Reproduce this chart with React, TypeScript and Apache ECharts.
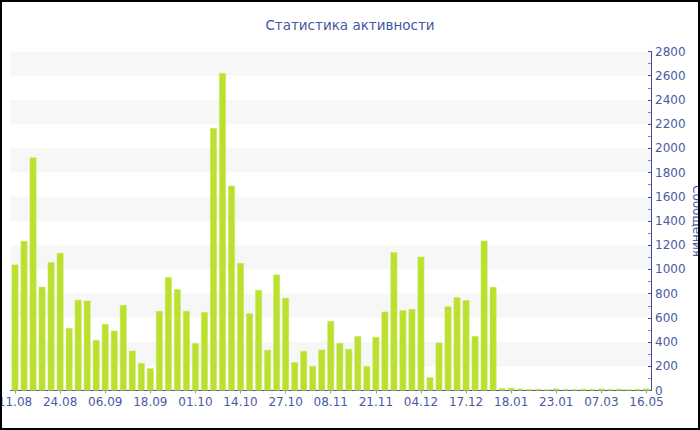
import React, { useEffect, useRef } from "react";
import * as echarts from "echarts";

const titleText = "Статистика активности";
const yAxisName = "Сообщения";

const dates = [
  "11.08", "13.08", "16.08", "18.08", "21.08",
  "24.08", "26.08", "29.08", "31.08", "03.09",
  "06.09", "08.09", "11.09", "13.09", "16.09",
  "18.09", "21.09", "23.09", "26.09", "28.09",
  "01.10", "04.10", "06.10", "09.10", "11.10",
  "14.10", "17.10", "19.10", "22.10", "24.10",
  "27.10", "29.10", "01.11", "03.11", "05.11",
  "08.11", "11.11", "13.11", "16.11", "18.11",
  "21.11", "24.11", "26.11", "29.11", "01.12",
  "04.12", "07.12", "09.12", "12.12", "14.12",
  "17.12", "20.12", "22.12", "25.12", "29.12",
  "18.01", "19.01", "20.01", "21.01", "22.01",
  "23.01", "01.02", "09.02", "17.02", "25.02",
  "07.03", "21.03", "04.04", "18.04", "02.05",
  "16.05",
];

const messages = [
  1040, 1235, 1925, 857, 1059,
  1136, 516, 748, 742, 417,
  549, 494, 706, 329, 227,
  183, 657, 937, 836, 657,
  390, 648, 2168, 2622, 1692,
  1053, 637, 830, 335, 957,
  764, 233, 326, 202, 337,
  574, 392, 343, 448, 202,
  442, 651, 1141, 662, 673,
  1105, 109, 395, 695, 770,
  745, 450, 1237, 855, 18,
  22, 15, 12, 14, 10,
  16, 12, 11, 14, 13,
  15, 12, 14, 11, 13,
  16,
];

const yMin = 0;
const yMax = 2800;
const yStep = 200;

export default function App() {
  const ref = useRef<HTMLDivElement>(null);

  useEffect(() => {
    if (!ref.current) return;
    const chart = echarts.init(ref.current, undefined, { renderer: "svg" });
    const textColor = "#4a5aa4";
    const axisColor = "#3b4c9c";
    const font = "DejaVu Sans";
    chart.setOption({
      animation: false,
      backgroundColor: "#ffffff",
      title: {
        text: titleText,
        left: "center",
        top: 13,
        textStyle: {
          color: "#4556a3",
          fontSize: 13.5,
          fontWeight: "normal",
          fontFamily: font,
        },
      },
      grid: {
        left: 10.5,
        right: 49,
        top: 51.5,
        bottom: 39.5,
        containLabel: false,
        outerBoundsMode: "none",
      },
      xAxis: {
        type: "category",
        data: dates,
        boundaryGap: true,
        axisLine: { lineStyle: { color: axisColor, width: 1 } },
        axisTick: {
          show: true,
          interval: 4,
          alignWithLabel: true,
          length: 3,
          lineStyle: { color: "#9a9a9a" },
        },
        axisLabel: {
          interval: 4,
          color: textColor,
          fontSize: 12,
          fontFamily: font,
          margin: 5,
          hideOverlap: false,
        },
        splitLine: { show: false },
      },
      yAxis: {
        type: "value",
        position: "right",
        min: yMin,
        max: yMax,
        interval: yStep,
        name: yAxisName,
        nameLocation: "middle",
        nameRotate: -90,
        nameGap: 40,
        nameMoveOverlap: false,
        nameTextStyle: {
          color: textColor,
          fontSize: 12,
          fontFamily: font,
        },
        axisLine: { show: true, lineStyle: { color: axisColor, width: 1 } },
        axisTick: {
          show: true,
          inside: true,
          length: 3,
          lineStyle: { color: axisColor },
        },
        minorTick: {
          show: true,
          splitNumber: 2,
          length: 3,
          lineStyle: { color: "#8a8a8a" },
        },
        axisLabel: {
          color: textColor,
          fontSize: 12,
          fontFamily: font,
          margin: 4,
          formatter: (v: number) => String(v),
        },
        splitLine: { show: false },
        splitArea: {
          show: true,
          areaStyle: { color: ["rgba(255,255,255,0)", "#f7f7f7"] },
        },
      },
      series: [
        {
          type: "bar",
          data: messages,
          barCategoryGap: "25%",
          itemStyle: {
            color: "#bbe02e",
            borderColor: "#c8e868",
            borderWidth: 0.5,
          },
        },
      ],
      graphic: [
        {
          type: "rect",
          z: 100,
          silent: true,
          shape: { x: 1, y: 1, width: 698, height: 428 },
          style: { fill: "none", stroke: "#000000", lineWidth: 2 },
        },
      ],
    });
    return () => chart.dispose();
  }, []);

  return (
    <div
      ref={ref}
      style={{ position: "fixed", left: 0, top: 0, width: 700, height: 430 }}
    />
  );
}
